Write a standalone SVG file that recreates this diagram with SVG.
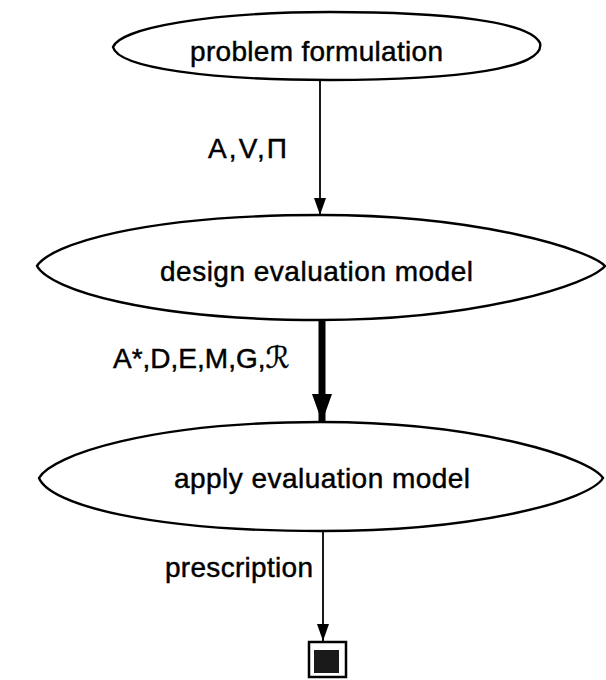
<svg xmlns="http://www.w3.org/2000/svg" width="606" height="680" viewBox="0 0 606 680">
  <style>
    .node-shape { fill: #ffffff; stroke: #000000; stroke-width: 2.4; }
    .label { font-family: "Liberation Sans", Arial, Helvetica, sans-serif; font-size: 28px; fill: #000000; stroke: #000000; stroke-width: 0.45; }
    .script { font-family: "DejaVu Serif", "DejaVu Sans", serif; font-style: italic; font-size: 30px; }
    .edge { fill: none; stroke: #000000; }
    .edge-thin { stroke-width: 1.8; marker-end: url(#head-thin); }
    .edge-thick { stroke-width: 7; marker-end: url(#head-thick); }
  </style>
  <defs>
    <marker id="head-thin" markerUnits="userSpaceOnUse" markerWidth="17" markerHeight="12" refX="17" refY="6" orient="auto">
      <path d="M0,0 L17,6 L0,12 Z" fill="#000000"/>
    </marker>
    <marker id="head-thick" markerUnits="userSpaceOnUse" markerWidth="28" markerHeight="20" refX="28" refY="10" orient="auto">
      <path d="M0,0 L28,10 L0,20 Z" fill="#000000"/>
    </marker>
  </defs>

  <rect x="0" y="0" width="606" height="680" fill="#ffffff"/>

  <!-- connectors -->
  <g id="connectors">
    <line class="edge edge-thin" x1="320" y1="80" x2="320" y2="215"/>
    <line class="edge edge-thick" x1="322" y1="321" x2="322" y2="422"/>
    <line class="edge edge-thin" x1="323" y1="532" x2="323" y2="641"/>
    <text class="label" x="208" y="158" textLength="79">A,V,Π</text>
    <text class="label" x="113" y="368">A*,D,E,M,G,<tspan class="script">ℛ</tspan></text>
    <text class="label" x="165" y="577" textLength="148">prescription</text>
  </g>

  <!-- process steps -->
  <g id="problem-formulation">
    <path class="node-shape" d="M113,47 C120,28 210,12 330,12 C450,12 530,22 540,43 C546,68 460,80 330,80 C210,80 118,68 113,47 Z"/>
    <text class="label" x="190" y="61" textLength="253">problem formulation</text>
  </g>

  <g id="design-evaluation-model">
    <path class="node-shape" d="M37,266 C50,245 140,215 321,215 C480,215 590,250 605,266 C590,284 480,320 321,320 C150,320 50,290 37,266 Z"/>
    <text class="label" x="160" y="281" textLength="313">design evaluation model</text>
  </g>

  <g id="apply-evaluation-model">
    <path class="node-shape" d="M39,478 C52,455 150,422 321,422 C480,422 590,458 603,478 C590,500 480,531 321,531 C150,531 50,505 39,478 Z"/>
    <text class="label" x="174" y="488" textLength="296">apply evaluation model</text>
  </g>

  <!-- terminal: filled square inside a frame -->
  <g id="result">
    <rect x="309" y="642" width="37" height="35" fill="#ffffff" stroke="#000000" stroke-width="2.5"/>
    <rect x="314" y="650" width="25" height="23" fill="#1a1a1a"/>
  </g>
</svg>
